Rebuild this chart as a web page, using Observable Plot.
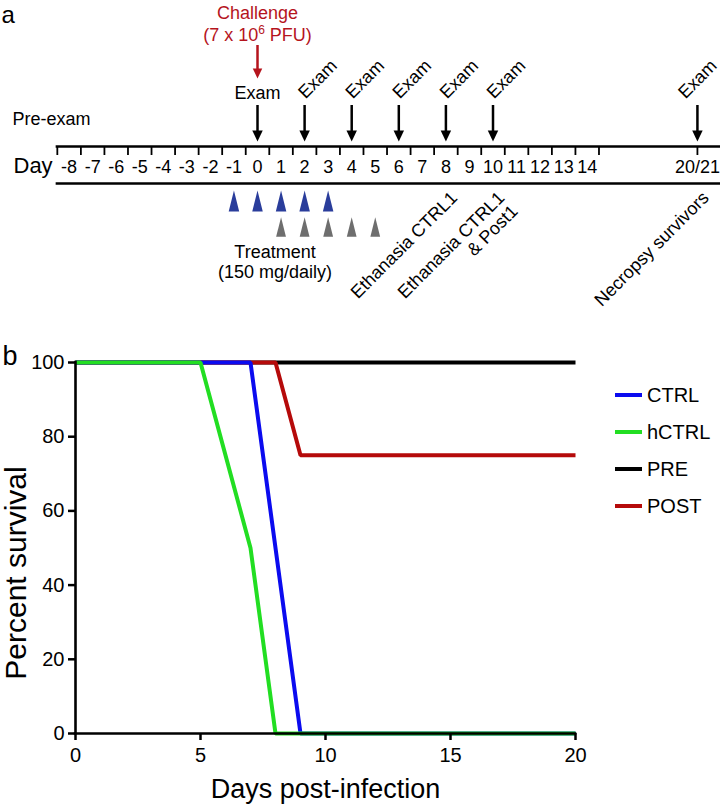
<!DOCTYPE html>
<html><head><meta charset="utf-8">
<script src="https://cdn.jsdelivr.net/npm/d3@7"></script>
<script src="https://cdn.jsdelivr.net/npm/@observablehq/plot@0.6"></script>
<style>
html,body{margin:0;padding:0;background:#fff;}
#fig{position:relative;width:720px;height:806px;font-family:"Liberation Sans",Arial,Helvetica,sans-serif;overflow:hidden;background:#fff;}
#fig svg{position:absolute;left:0;}
.leg{position:absolute;left:615px;height:24px;font-size:20px;display:flex;align-items:center;color:#000;}
.leg .sw{display:inline-block;width:27px;height:4px;margin-right:5px;}
</style></head><body><div id="fig"></div>
<script>
// ---------- Panel a data ----------
const dayLabels = ["-8","-7","-6","-5","-4","-3","-2","-1","0","1","2","3","4","5","6","7","8","9","10","11","12","13","14","20/21"];
const examDays = ["2","4","6","8","10"];
const examDayFirst = ["0"];
const examDayLast = ["20/21"];
const preTreatDays = ["-1","0","1","2","3"];
const postTreatDays = ["1","2","3","4","5"];
const eventLabels = ["Ethanasia CTRL1", "Ethanasia CTRL1\n& Post1", "Necropsy survivors"];
const eventDays = ["8","10","20/21"];
const challengeLines = ["Challenge", "(7 x 10\u2076 PFU)"];
const treatmentLines = ["Treatment", "(150 mg/daily)"];

// ---------- Panel b data ----------
const seriesNames = ["CTRL","hCTRL","PRE","POST"];
const seriesColors = ["#0b0bef","#22de22","#000000","#b50a0a"];
const ctrlDays = [0,7,9,20],   ctrlSurv = [100,100,0,0];
const hctrlDays = [0,5,7,8,20], hctrlSurv = [100,100,50,0,0];
const preDays = [0,20],         preSurv = [100,100];
const postDays = [0,8,9,20],    postSurv = [100,100,75,75];
const xTicks = [0,5,10,15,20];
const yTicks = [0,20,40,60,80,100];

// ---------- helpers ----------
const FONT = "Liberation Sans, Arial, Helvetica, sans-serif";
const BREAK_POS = 18.68; // compressed position of the "20/21" column after the axis break
const pos = l => l === "20/21" ? BREAK_POS : +l;
const numericDays = dayLabels.filter(d => d !== "20/21").map(Number);
const boundaries = numericDays.map(d => d - 0.5).concat([d3.max(numericDays) + 0.5, BREAK_POS]);

// vertical layout rows of the timeline diagram (pixels)
const ROW = {title1:18, title2:40, redTop:45, redHead:73, exam:99, arrowTop:105, arrowHead:135.5,
  preExam:124, line1:146, tickEnd:155, days:172, line2:183, blue:200.5, gray:226.5,
  treat1:257, treat2:277, event:189};

function triSymbol(wf, hf, down) {
  return {draw(ctx, size) {
    const r = Math.sqrt(size / Math.PI), w = r * wf, h = r * hf;
    if (down) { ctx.moveTo(0, h/2); ctx.lineTo(w/2, -h/2); ctx.lineTo(-w/2, -h/2); }
    else { ctx.moveTo(0, -h/2); ctx.lineTo(w/2, h/2); ctx.lineTo(-w/2, h/2); }
    ctx.closePath();
  }};
}
const headDown = triSymbol(0.95, 1, true);
const tallUp = triSymbol(1, 2, false);

const RED = "#b5141d", BLUE = "#2a3d9b", GRAY = "#6e6e6e";
const XMIN = -10.913, XMAX = 19.66;

const svgA = Plot.plot({
  width: 720, height: 310, marginTop: 0, marginBottom: 0, marginLeft: 0, marginRight: 0,
  x: {domain: [XMIN, XMAX], axis: null},
  y: {domain: [0, 310], range: [0, 310], axis: null},
  style: {fontFamily: FONT, fontSize: "18px", color: "#000", background: "transparent", overflow: "visible"},
  marks: [
    Plot.text(["a"], {frameAnchor: "left", y: 22, dx: 1, text: d => d, fontSize: 24, lineAnchor: "bottom", textAnchor: "start"}),
    Plot.text(challengeLines, {x: () => pos("0"), y: (d, i) => [ROW.title1, ROW.title2][i], text: d => d, fill: RED, fontSize: 18, lineAnchor: "bottom"}),
    Plot.ruleX(examDayFirst, {x: pos, y1: ROW.redTop, y2: ROW.redHead, stroke: RED, strokeWidth: 2.5}),
    Plot.dot(examDayFirst, {x: pos, y: ROW.redHead, symbol: headDown, r: 10, fill: RED, stroke: "none"}),
    Plot.text(examDayFirst, {x: pos, y: ROW.exam - 1, text: () => "Exam", fontSize: 18, lineAnchor: "bottom"}),
    Plot.text(examDays, {x: pos, y: ROW.exam, dx: 1, text: () => "Exam", rotate: -45, textAnchor: "start", lineAnchor: "bottom", fontSize: 18}),
    Plot.text(examDayLast, {x: pos, y: ROW.exam, dx: -12, text: () => "Exam", rotate: -45, textAnchor: "start", lineAnchor: "bottom", fontSize: 18}),
    Plot.ruleX(examDayFirst.concat(examDays, examDayLast), {x: pos, y1: ROW.arrowTop, y2: ROW.arrowHead, stroke: "#000", strokeWidth: 2.5}),
    Plot.dot(examDayFirst.concat(examDays, examDayLast), {x: pos, y: ROW.arrowHead, symbol: headDown, r: 11, fill: "#000", stroke: "none"}),
    Plot.text(["Pre-exam"], {frameAnchor: "left", y: ROW.preExam, dx: 12, text: d => d, textAnchor: "start", lineAnchor: "bottom", fontSize: 18}),
    Plot.ruleY([ROW.line1, ROW.line2], {y: d => d, x1: -8.55, x2: XMAX, stroke: "#000", strokeWidth: 2.6}),
    Plot.ruleX(boundaries, {x: d => d, y1: ROW.line1, y2: ROW.tickEnd, stroke: "#000", strokeWidth: 1.8}),
    Plot.text(["Day"], {frameAnchor: "left", y: ROW.days, dx: 13, text: d => d, textAnchor: "start", lineAnchor: "bottom", fontSize: 22}),
    Plot.text(dayLabels, {x: pos, y: ROW.days, text: d => d, lineAnchor: "bottom", fontSize: 18}),
    Plot.dot(preTreatDays, {x: pos, y: ROW.blue, symbol: tallUp, r: 10.5, fill: BLUE, stroke: "none"}),
    Plot.dot(postTreatDays, {x: pos, y: ROW.gray, symbol: tallUp, r: 9.8, fill: GRAY, stroke: "none"}),
    Plot.text(treatmentLines, {x: () => pos(postTreatDays[0]), dx: -6, y: (d, i) => [ROW.treat1, ROW.treat2][i], text: d => d, lineAnchor: "bottom", fontSize: 18}),
    Plot.text(eventLabels, {x: (d, i) => pos(eventDays[i]), y: ROW.event, dx: 3, text: d => d, rotate: -45, textAnchor: "end", lineAnchor: "top", lineHeight: 1.05, fontSize: 18})
  ]
});

// superscript exponent in the challenge dose
d3.select(svgA).selectAll("text").each(function() {
  const t = this.textContent;
  if (!t.includes("\u2076")) return;
  const [a, b] = t.split("\u2076");
  this.textContent = "";
  const s = d3.select(this);
  s.append("tspan").text(a);
  s.append("tspan").attr("dy", -7).attr("font-size", 12).text("6");
  s.append("tspan").attr("dy", 7).text(b);
});

// ---------- Panel b ----------
function toRows(name, xs, ys) { return xs.map((x, i) => ({series: name, day: x, surv: ys[i]})); }
const drawOrder = [
  toRows("PRE", preDays, preSurv),
  toRows("POST", postDays, postSurv),
  toRows("CTRL", ctrlDays, ctrlSurv),
  toRows("hCTRL", hctrlDays, hctrlSurv)
];

const svgB = Plot.plot({
  width: 720, height: 496, marginTop: 52, marginBottom: 73, marginLeft: 75, marginRight: 145,
  x: {domain: [0, 20]},
  y: {domain: [0, 100]},
  color: {domain: seriesNames, range: seriesColors},
  style: {fontFamily: FONT, fontSize: "20px", color: "#000", background: "transparent", overflow: "visible"},
  marks: [
    ...drawOrder.map(rows => Plot.line(rows, {x: "day", y: "surv", stroke: "series", strokeWidth: 4, strokeLinejoin: "miter", strokeLinecap: "butt"})),
    Plot.ruleX([0], {y1: 0, y2: 100, stroke: "#000", strokeWidth: 2.6, strokeLinecap: "square"}),
    Plot.ruleY([0], {x1: 0, x2: 20, stroke: "#000", strokeWidth: 2.6, strokeLinecap: "square"}),
    Plot.axisX({ticks: xTicks, tickSize: 7, tickPadding: 7, strokeWidth: 2.5, fontSize: 20, label: null, tickFormat: d => String(d)}),
    Plot.axisY({ticks: yTicks, tickSize: 7, tickPadding: 4, strokeWidth: 2.5, fontSize: 20, label: null, tickFormat: d => String(d)}),
    Plot.text(["Percent survival"], {frameAnchor: "left", dx: -50, dy: 25, rotate: -90, text: d => d, textAnchor: "middle", lineAnchor: "bottom", fontSize: 30}),
    Plot.text(["Days post-infection"], {frameAnchor: "bottom", dy: 64, text: d => d, textAnchor: "middle", lineAnchor: "bottom", fontSize: 27}),
    Plot.text(["b"], {frameAnchor: "top-left", dx: -73, dy: 2, text: d => d, textAnchor: "start", lineAnchor: "bottom", fontSize: 27})
  ]
});

const fig = document.getElementById("fig");
svgA.style.top = "0px";
svgB.style.top = "310px";
fig.appendChild(svgA);
fig.appendChild(svgB);

// legend
const legendCenters = [395, 432, 469, 506];
seriesNames.forEach((name, i) => {
  const div = document.createElement("div");
  div.className = "leg";
  div.style.top = (legendCenters[i] - 12) + "px";
  const sw = document.createElement("span");
  sw.className = "sw";
  sw.style.background = seriesColors[i];
  const lab = document.createElement("span");
  lab.textContent = name;
  div.appendChild(sw); div.appendChild(lab);
  fig.appendChild(div);
});
</script></body></html>
